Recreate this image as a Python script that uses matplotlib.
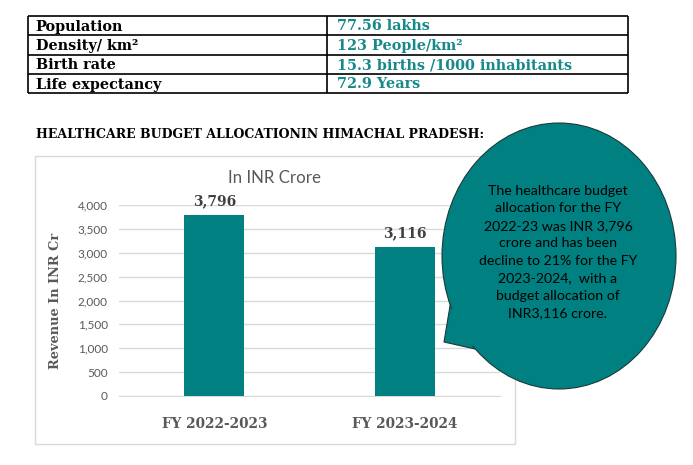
import matplotlib
matplotlib.use("Agg")
import matplotlib.pyplot as plt
from matplotlib.patches import Ellipse, Polygon, Rectangle
from matplotlib.ticker import FuncFormatter

# ---------------- data ----------------
table_labels = ["Population", "Density/ km²", "Birth rate", "Life expectancy"]
table_values = ["77.56 lakhs", "123 People/km²", "15.3 births /1000 inhabitants", "72.9 Years"]
categories = ["FY 2022-2023", "FY 2023-2024"]
budget = [3796, 3116]
y_ticks = [0, 500, 1000, 1500, 2000, 2500, 3000, 3500, 4000]
section_title = "HEALTHCARE BUDGET ALLOCATIONIN HIMACHAL PRADESH:"
chart_title = "In INR Crore"
y_label = "Revenue In INR Cr"
callout_text = ("The healthcare budget\nallocation for the FY\n2022-23 was INR 3,796\n"
                "crore and has been\ndecline to 21% for the FY\n2023-2024,  with a\n"
                "budget allocation of\nINR3,116 crore.")

TEAL = "#008080"
TEXT_TEAL = "#17898A"
GRAY = "#595959"
SERIF = ["DejaVu Serif"]
SANS = ["Lato", "DejaVu Sans"]

W, H = 693, 465
fig = plt.figure(figsize=(W / 100, H / 100), dpi=100)

# background axes in pixel coords
bg = fig.add_axes([0, 0, 1, 1], zorder=0)
bg.set_xlim(0, W)
bg.set_ylim(H, 0)
bg.axis("off")

# chart box
bg.add_patch(Rectangle((35, 156), 480, 288, fill=False, edgecolor="#d9d9d9", lw=1.0))

# table
row_y = [16.5, 35.5, 55, 74.5, 93.5]
tl, tm, tr = 27.5, 327, 628
for y in row_y:
    bg.plot([tl, tr], [y, y], color="black", lw=1.2, solid_capstyle="butt")
for x in (tl, tm, tr):
    bg.plot([x, x], [row_y[0], row_y[-1]], color="black", lw=1.2, solid_capstyle="butt")
for i, (lab, val) in enumerate(zip(table_labels, table_values)):
    yc = (row_y[i] + row_y[i + 1]) / 2 + 0.5
    bg.text(35.5, yc, lab, family=SERIF, weight="bold", fontsize=10.4, color="black",
            va="center", ha="left")
    bg.text(337, yc, val, family=SERIF, weight="bold", fontsize=10.4, color=TEXT_TEAL,
            va="center", ha="left")

bg.text(35.5, 134.5, section_title, family=SERIF, weight="bold", fontsize=9.0,
        color="black", va="center", ha="left")

# ---------------- bar chart ----------------
left, right, bottom, top = 119, 500, 396, 205
ax = fig.add_axes([left / W, 1 - bottom / H, (right - left) / W, (bottom - top) / H], zorder=1)
ax.set_facecolor("none")
x = list(range(len(categories)))
bars = ax.bar(x, budget, width=0.315, color=TEAL, zorder=3)
ax.set_xlim(-0.5, len(categories) - 0.5)
ax.set_ylim(0, 4000)
ax.set_yticks(y_ticks)
ax.yaxis.set_major_formatter(FuncFormatter(lambda v, p: f"{int(v):,}"))
ax.grid(axis="y", color="#d9d9d9", lw=1.0, zorder=0)
ax.set_axisbelow(True)
for s in ["top", "right", "left"]:
    ax.spines[s].set_visible(False)
ax.spines["bottom"].set_color("#d9d9d9")
ax.tick_params(axis="y", length=0, pad=8, labelsize=8.5, labelcolor=GRAY)
ax.tick_params(axis="x", length=0, pad=15)
for lbl in ax.get_yticklabels():
    lbl.set_family(SANS)
ax.set_xticks(x)
ax.set_xticklabels(categories, family=SERIF, weight="bold", fontsize=9.8, color=GRAY)
ax.set_ylabel(y_label, family=SERIF, weight="bold", fontsize=9.3, color=GRAY, labelpad=11)
for b, v in zip(bars, budget):
    ax.annotate(f"{v:,}", (b.get_x() + b.get_width() / 2, v), xytext=(0, 5),
                textcoords="offset points", ha="center", va="bottom",
                family=SERIF, weight="bold", fontsize=10, color="#404040")
ax.set_title(chart_title, family=SANS, fontsize=12.2, color=GRAY, pad=16, x=(275 - left) / (right - left))

# ---------------- callout overlay ----------------
ov = fig.add_axes([0, 0, 1, 1], zorder=5)
ov.set_facecolor("none")
ov.set_xlim(0, W)
ov.set_ylim(H, 0)
ov.axis("off")
ell = Ellipse((559, 256), 234, 266, facecolor=TEAL, edgecolor="#1a3a3a", lw=0.8, zorder=2)
ov.add_patch(ell)
tail = Polygon([(451, 300), (444, 342), (475, 349), (490, 336)], closed=True,
               facecolor=TEAL, edgecolor="#1a3a3a", lw=0.8, zorder=1)
ov.add_patch(tail)
# cover the tail border inside ellipse
ov.add_patch(Polygon([(453, 300), (447, 340), (474, 346), (492, 334)], closed=True,
                     facecolor=TEAL, edgecolor="none", zorder=3))
ov.add_patch(Ellipse((559, 256), 232, 264, facecolor=TEAL, edgecolor="none", zorder=3))
ov.text(558, 252, callout_text, family=SANS, fontsize=10.2, color="black",
        ha="center", va="center", linespacing=1.55, zorder=4)

fig.savefig("out.png", dpi=100)
